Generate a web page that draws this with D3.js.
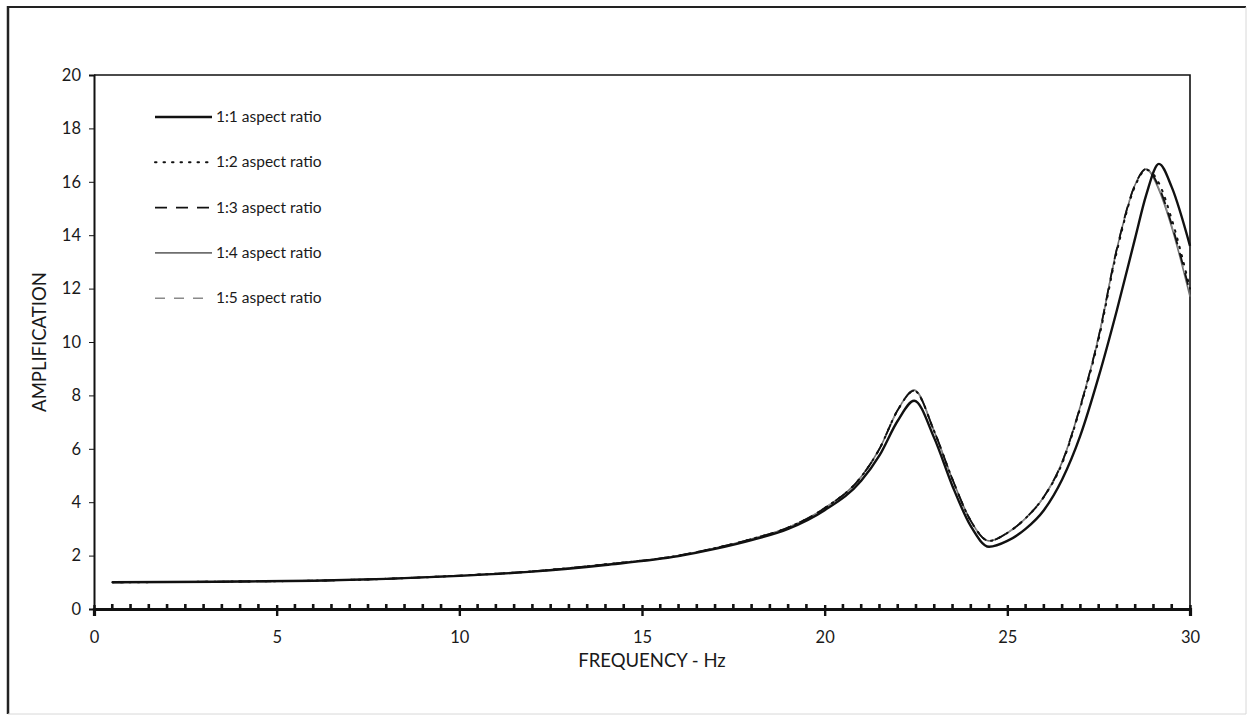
<!DOCTYPE html>
<html>
<head>
<meta charset="utf-8">
<script src="https://cdn.jsdelivr.net/npm/d3@7"></script>
<style>
  body { margin: 0; background: #fff; }
  svg { display: block; font-family: Lato, "Open Sans", sans-serif; }
</style>
</head>
<body>
<div id="vis"></div>
<script>
// frequency grid (Hz) shared by all series
const freq = [0.5, 2, 4, 6, 8, 10, 12, 14, 16, 17, 18, 19, 20, 21, 21.5, 22, 22.45,
  23, 23.5, 24, 24.5, 25, 25.5, 26, 26.5, 27, 27.5, 28, 28.5, 28.8, 29.15, 29.5, 30];

const amp11 = [1.0, 1.01, 1.03, 1.06, 1.13, 1.24, 1.4, 1.65, 1.98, 2.25, 2.58, 3.0, 3.7, 4.8, 5.75, 7.05, 7.8,
  6.4, 4.6, 3.1, 2.33, 2.55, 3.0, 3.7, 4.85, 6.5, 8.7, 11.2, 13.9, 15.5, 16.67, 15.8, 13.6];
const amp12 = [1.0, 1.01, 1.03, 1.06, 1.13, 1.25, 1.41, 1.67, 2.0, 2.28, 2.62, 3.05, 3.78, 4.95, 6.0, 7.45, 8.17,
  6.65, 4.85, 3.3, 2.55, 2.85, 3.4, 4.2, 5.45, 7.55, 10.1, 13.4, 15.85, 16.45, 15.95, 14.6, 12.0];
const amp13 = [1.0, 1.01, 1.03, 1.06, 1.13, 1.25, 1.41, 1.67, 2.0, 2.28, 2.62, 3.05, 3.78, 4.95, 6.0, 7.45, 8.18,
  6.65, 4.85, 3.3, 2.55, 2.85, 3.4, 4.2, 5.5, 7.6, 10.2, 13.5, 15.9, 16.48, 15.8, 14.4, 11.85];
const amp14 = [1.0, 1.01, 1.03, 1.06, 1.13, 1.25, 1.41, 1.67, 2.0, 2.28, 2.62, 3.05, 3.78, 4.95, 6.0, 7.45, 8.2,
  6.65, 4.85, 3.3, 2.55, 2.85, 3.4, 4.2, 5.5, 7.6, 10.2, 13.5, 15.9, 16.48, 15.7, 14.3, 11.7];
const amp15 = [1.0, 1.01, 1.03, 1.06, 1.13, 1.25, 1.41, 1.67, 2.0, 2.28, 2.62, 3.05, 3.78, 4.95, 6.0, 7.45, 8.18,
  6.65, 4.85, 3.3, 2.55, 2.85, 3.4, 4.2, 5.5, 7.6, 10.2, 13.5, 15.9, 16.47, 15.75, 14.35, 11.8];

const seriesNames = ["1:1 aspect ratio", "1:2 aspect ratio", "1:3 aspect ratio", "1:4 aspect ratio", "1:5 aspect ratio"];
const xTicks = [0, 5, 10, 15, 20, 25, 30];
const yTicks = [0, 2, 4, 6, 8, 10, 12, 14, 16, 18, 20];

// line styles in legend order
const styles = [
  { color: "#111", width: 2.4, dash: null },
  { color: "#111", width: 2, dash: "1.5,7" },
  { color: "#111", width: 1.8, dash: "12,9" },
  { color: "#6f6f6f", width: 1.6, dash: null },
  { color: "#8a8a8a", width: 1.4, dash: "10,9" },
];

const W = 1250, H = 717;
const margin = { top: 75, right: 60, bottom: 108, left: 94 };
const width = W - margin.left - margin.right;
const height = H - margin.top - margin.bottom;

var svg = d3.select("#vis").append("svg").attr("width", W).attr("height", H);

// outer frame
svg.append("line").attr("x1", 8).attr("y1", 7).attr("x2", 1246).attr("y2", 7)
  .attr("stroke", "#222").attr("stroke-width", 2);
svg.append("line").attr("x1", 8).attr("y1", 6).attr("x2", 8).attr("y2", 714)
  .attr("stroke", "#222").attr("stroke-width", 2.5);
svg.append("line").attr("x1", 1246).attr("y1", 7).attr("x2", 1246).attr("y2", 714)
  .attr("stroke", "#d8d8d8").attr("stroke-width", 1);
svg.append("line").attr("x1", 8).attr("y1", 714).attr("x2", 1246).attr("y2", 714)
  .attr("stroke", "#d8d8d8").attr("stroke-width", 1);

var g = svg.append("g").attr("transform", `translate(${margin.left},${margin.top})`);

var x = d3.scaleLinear().domain([0, 30]).range([0, width]);
var y = d3.scaleLinear().domain([0, 20]).range([height, 0]);

// plot box: top and right sides
g.append("path")
  .attr("d", `M0,0H${width}V${height}`)
  .attr("fill", "none").attr("stroke", "#111").attr("stroke-width", 1.6);

// y axis
const yAxis = g.append("g").call(d3.axisLeft(y).tickValues(yTicks).tickSize(5).tickPadding(8));
yAxis.select(".domain").attr("stroke", "#111").attr("stroke-width", 2);
yAxis.selectAll(".tick line").attr("stroke", "#111");
yAxis.selectAll("text").attr("font-size", 16.5).attr("fill", "#1a1a1a").attr("font-family", "Lato, sans-serif");

// x axis: thick line with half-Hz minor ticks
const xAxis = g.append("g").attr("transform", `translate(0,${height})`)
  .call(d3.axisBottom(x).tickValues(xTicks).tickSize(7).tickPadding(15));
xAxis.select(".domain").attr("stroke", "#111").attr("stroke-width", 3.2);
xAxis.selectAll(".tick line").attr("stroke", "#111").attr("stroke-width", 2.4).attr("y1", -4);
xAxis.selectAll("text").attr("font-size", 16.5).attr("fill", "#1a1a1a").attr("font-family", "Lato, sans-serif");

g.append("g").selectAll("line")
  .data(d3.range(1, 60).map((i) => i / 2).filter((v) => v % 5 !== 0))
  .join("line")
  .attr("x1", (d) => x(d)).attr("x2", (d) => x(d))
  .attr("y1", height).attr("y2", height - 5)
  .attr("stroke", "#111").attr("stroke-width", 2.6);

// axis titles
svg.append("text")
  .attr("x", margin.left + width / 2 + 10).attr("y", 667)
  .attr("text-anchor", "middle").attr("font-size", 18.5).attr("fill", "#1a1a1a")
  .text("FREQUENCY - Hz");
svg.append("text")
  .attr("transform", `translate(46,${margin.top + height / 2}) rotate(-90)`)
  .attr("text-anchor", "middle").attr("font-size", 18.5).attr("fill", "#1a1a1a")
  .text("AMPLIFICATION");

// curves
const allAmps = [amp11, amp12, amp13, amp14, amp15];
const line = d3.line().x((d) => x(d[0])).y((d) => y(d[1])).curve(d3.curveMonotoneX);

const drawOrder = [3, 4, 2, 1, 0];
g.append("g").selectAll("path")
  .data(drawOrder)
  .join("path")
  .attr("d", (i) => line(freq.map((f, j) => [f, allAmps[i][j]])))
  .attr("fill", "none")
  .attr("stroke", (i) => styles[i].color)
  .attr("stroke-width", (i) => styles[i].width)
  .attr("stroke-dasharray", (i) => styles[i].dash)
  .attr("stroke-linecap", (i) => (i === 1 ? "round" : "butt"));

// legend
const key = svg.append("g").attr("transform", "translate(155,117)");
const items = key.selectAll("g").data(seriesNames).join("g")
  .attr("transform", (d, i) => `translate(0,${i * 45.3})`);
items.append("line")
  .attr("x1", 0).attr("x2", 57).attr("y1", 0).attr("y2", 0)
  .attr("stroke", (d, i) => styles[i].color)
  .attr("stroke-width", (d, i) => styles[i].width)
  .attr("stroke-dasharray", (d, i) => styles[i].dash)
  .attr("stroke-linecap", (d, i) => (i === 1 ? "round" : "butt"));
items.append("text")
  .attr("x", 61).attr("y", 5)
  .attr("font-size", 15.5).attr("fill", "#1a1a1a")
  .text((d) => d);
</script>
</body>
</html>
